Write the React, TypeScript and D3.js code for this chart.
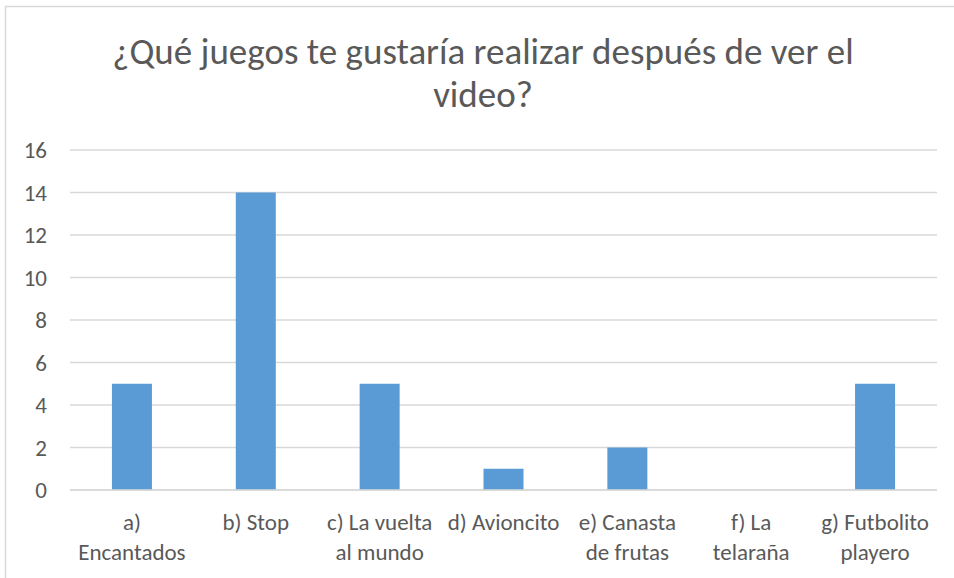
import React from "react";
import * as d3 from "d3";

const categories: string[][] = [
  ["a)", "Encantados"],
  ["b) Stop"],
  ["c) La vuelta", "al mundo"],
  ["d) Avioncito"],
  ["e) Canasta", "de frutas"],
  ["f) La", "telaraña"],
  ["g) Futbolito", "playero"],
];
const values: number[] = [5, 14, 5, 1, 2, 0, 5];
const yTicks: number[] = [0, 2, 4, 6, 8, 10, 12, 14, 16];
const titleLines: string[] = ["¿Qué juegos te gustaría realizar después de ver el", "video?"];

const W = 954;
const H = 578;
const font = "Calibri, Carlito, 'Open Sans', sans-serif";

export default function App() {
  const x = d3
    .scaleBand<number>()
    .domain(d3.range(categories.length))
    .range([70, 937])
    .paddingInner(0.677)
    .paddingOuter(0.3385);
  const y = d3.scaleLinear().domain([0, 16]).range([490, 150]);
  return (
    <svg
      width={W}
      height={H}
      style={{ position: "absolute", left: 0, top: 0, background: "#fff" }}
    >
      <line x1={5.5} y1={6} x2={5.5} y2={H} stroke="#d9d9d9" strokeWidth={1.5} />
      <line x1={5} y1={6.5} x2={W} y2={6.5} stroke="#d9d9d9" strokeWidth={1.5} />
      {titleLines.map((t, i) => (
        <text
          key={i}
          x={483}
          y={64 + i * 43}
          textAnchor="middle"
          fontFamily={font}
          fontSize={37}
          fill="#595959"
        >
          {t}
        </text>
      ))}
      {yTicks.map((t) => (
        <g key={t}>
          <line x1={70} x2={937} y1={y(t)} y2={y(t)} stroke="#d9d9d9" strokeWidth={1.3} />
          <text
            x={47}
            y={y(t)}
            dy="0.35em"
            textAnchor="end"
            fontFamily={font}
            fontSize={23}
            fill="#595959"
          >
            {t}
          </text>
        </g>
      ))}
      {values.map((v, i) => (
        <rect
          key={i}
          x={x(i)}
          y={y(v)}
          width={x.bandwidth()}
          height={y(0) - y(v)}
          fill="#5B9BD5"
        />
      ))}
      <line x1={70} x2={937} y1={y(0)} y2={y(0)} stroke="#d9d9d9" strokeWidth={1.5} />
      {categories.map((lines, i) => (
        <text
          key={i}
          textAnchor="middle"
          fontFamily={font}
          fontSize={23}
          fill="#595959"
        >
          {lines.map((l, j) => (
            <tspan key={j} x={(x(i) as number) + x.bandwidth() / 2} y={530 + j * 30}>
              {l}
            </tspan>
          ))}
        </text>
      ))}
    </svg>
  );
}
